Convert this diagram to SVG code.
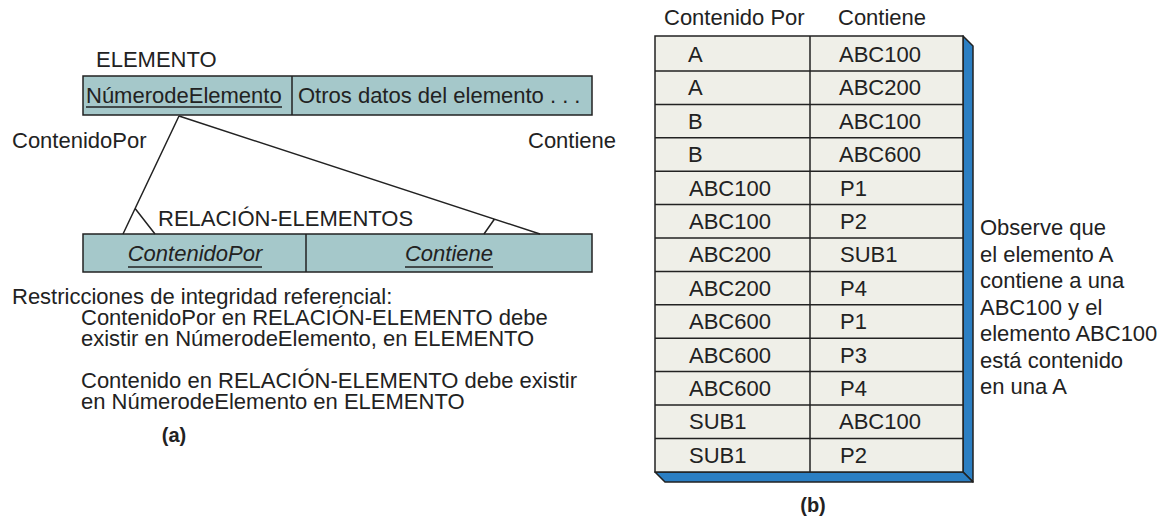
<svg xmlns="http://www.w3.org/2000/svg" width="1169" height="521" viewBox="0 0 1169 521">
<style>
text{font-family:"Liberation Sans",Arial,sans-serif;font-size:22px;fill:#222}
.it{font-style:italic}
.b{font-weight:bold}
.ent{fill:#a5c8ca;stroke:#222;stroke-width:1.5}
.ln{stroke:#222;stroke-width:1.5;fill:none}
.ul{stroke:#222;stroke-width:1.5}
.cell{fill:#efefe8;stroke:#222;stroke-width:1.5}
.side{fill:#2b7fc3;stroke:#222;stroke-width:1.5;stroke-linejoin:round}
.rl{stroke:#222;stroke-width:1.5}
</style>
<rect width="1169" height="521" fill="#fff"/>
<g id="elemento">
<text x="96" y="67">ELEMENTO</text>
<rect class="ent" x="83" y="76" width="509" height="39"/>
<line class="ln" x1="292" y1="76" x2="292" y2="115"/>
<text x="86" y="103">NúmerodeElemento</text>
<line class="ul" x1="86" y1="107" x2="282" y2="107"/>
<text x="298" y="103">Otros datos del elemento . . .</text>
</g>
<g id="relacion">
<text x="158" y="226">RELACIÓN-ELEMENTOS</text>
<rect class="ent" x="83" y="234" width="509" height="38"/>
<line class="ln" x1="306" y1="234" x2="306" y2="272"/>
<text class="it" x="195" y="261" text-anchor="middle">ContenidoPor</text>
<line class="ul" x1="128" y1="267" x2="262" y2="267"/>
<text class="it" x="449" y="261" text-anchor="middle">Contiene</text>
<line class="ul" x1="405" y1="267" x2="493" y2="267"/>
</g>
<g id="connectors">
<path class="ln" d="M179,116 L123,234 M135.5,209 L155,234"/>
<path class="ln" d="M179,116 L540,234 M494.5,219 L484,234"/>
<text x="12" y="148">ContenidoPor</text>
<text x="528" y="148">Contiene</text>
</g>
<g id="restricciones">
<text x="12" y="304">Restricciones de integridad referencial:</text>
<text x="81" y="325">ContenidoPor en RELACIÓN-ELEMENTO debe</text>
<text x="81" y="346">existir en NúmerodeElemento, en ELEMENTO</text>
<text x="81" y="388">Contenido en RELACIÓN-ELEMENTO debe existir</text>
<text x="81" y="409">en NúmerodeElemento en ELEMENTO</text>
<text class="b" x="174" y="442" text-anchor="middle" style="font-size:20px">(a)</text>
</g>
<g id="tabla">
<text x="664" y="25">Contenido Por</text>
<text x="838" y="25">Contiene</text>
<polygon class="side" points="963,36 973,46 973,482 963,472"/>
<polygon class="side" points="655,472 963,472 973,482 665,482"/>
<rect class="cell" x="655" y="36" width="308" height="436"/>
<line class="rl" x1="810" y1="36" x2="810" y2="472"/>
<line class="rl" x1="655" y1="71" x2="963" y2="71"/>
<line class="rl" x1="655" y1="104.4" x2="963" y2="104.4"/>
<line class="rl" x1="655" y1="137.8" x2="963" y2="137.8"/>
<line class="rl" x1="655" y1="171.2" x2="963" y2="171.2"/>
<line class="rl" x1="655" y1="204.6" x2="963" y2="204.6"/>
<line class="rl" x1="655" y1="238" x2="963" y2="238"/>
<line class="rl" x1="655" y1="271.4" x2="963" y2="271.4"/>
<line class="rl" x1="655" y1="304.8" x2="963" y2="304.8"/>
<line class="rl" x1="655" y1="338.2" x2="963" y2="338.2"/>
<line class="rl" x1="655" y1="371.6" x2="963" y2="371.6"/>
<line class="rl" x1="655" y1="405" x2="963" y2="405"/>
<line class="rl" x1="655" y1="438.4" x2="963" y2="438.4"/>
<text x="688" y="62">A</text><text x="839" y="62">ABC100</text>
<text x="688" y="95.4">A</text><text x="839" y="95.4">ABC200</text>
<text x="688" y="128.8">B</text><text x="839" y="128.8">ABC100</text>
<text x="688" y="162.2">B</text><text x="839" y="162.2">ABC600</text>
<text x="689" y="195.6">ABC100</text><text x="840" y="195.6">P1</text>
<text x="689" y="229">ABC100</text><text x="840" y="229">P2</text>
<text x="689" y="262.4">ABC200</text><text x="840" y="262.4">SUB1</text>
<text x="689" y="295.8">ABC200</text><text x="840" y="295.8">P4</text>
<text x="689" y="329.2">ABC600</text><text x="840" y="329.2">P1</text>
<text x="689" y="362.6">ABC600</text><text x="840" y="362.6">P3</text>
<text x="689" y="396">ABC600</text><text x="840" y="396">P4</text>
<text x="689" y="429.4">SUB1</text><text x="839" y="429.4">ABC100</text>
<text x="689" y="462.8">SUB1</text><text x="840" y="462.8">P2</text>
<text class="b" x="813" y="512" text-anchor="middle" style="font-size:20px">(b)</text>
</g>
<g id="nota">
<text x="980" y="235">Observe que</text>
<text x="980" y="261.5">el elemento A</text>
<text x="980" y="288">contiene a una</text>
<text x="980" y="314.5">ABC100 y el</text>
<text x="980" y="341">elemento ABC100</text>
<text x="980" y="367.5">está contenido</text>
<text x="980" y="394">en una A</text>
</g>
</svg>
